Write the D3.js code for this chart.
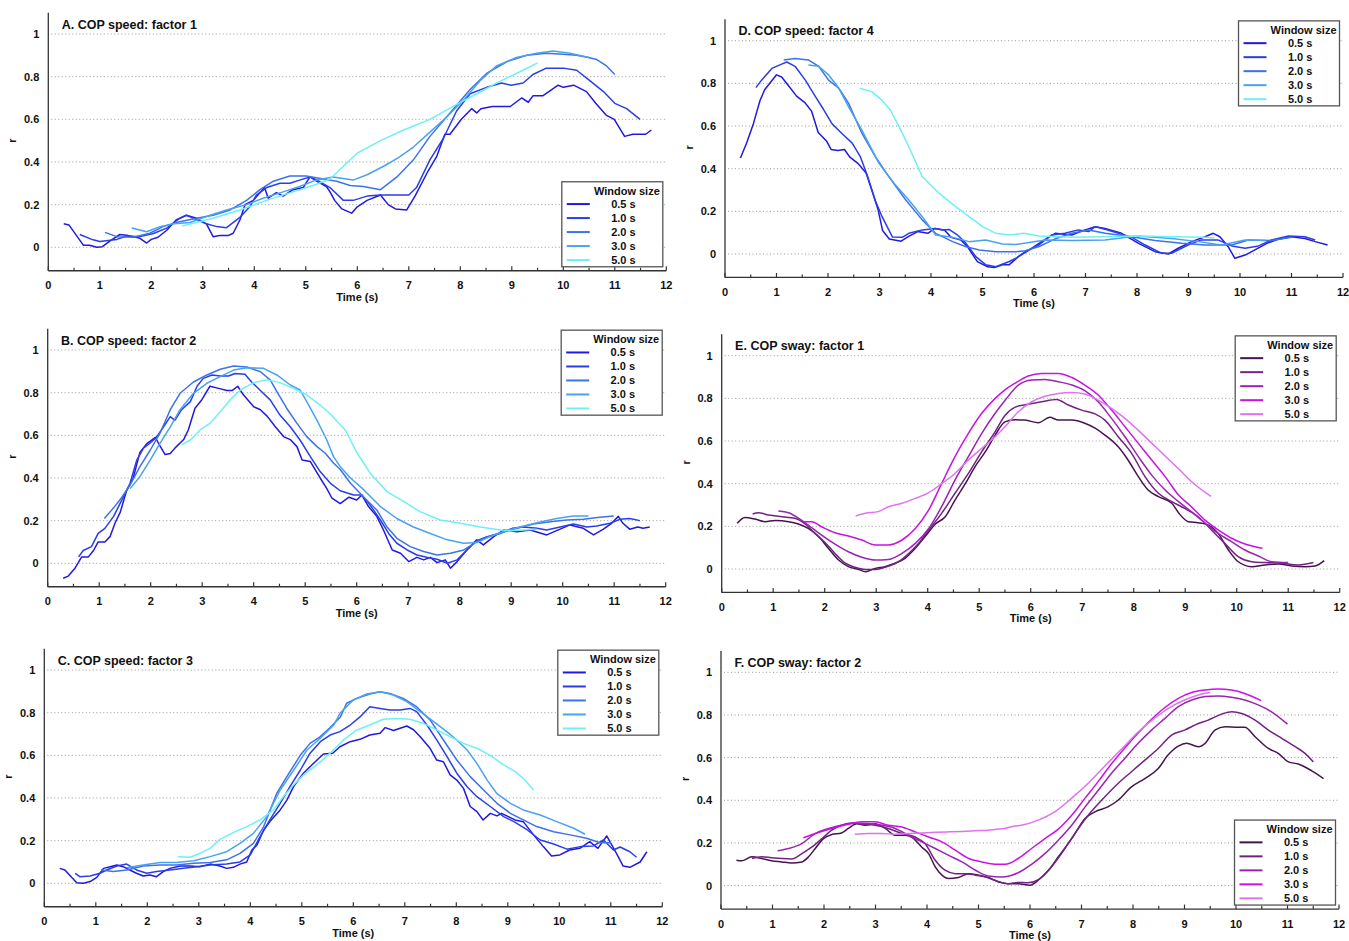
<!DOCTYPE html>
<meta charset="utf-8">
<style>
body { margin: 0; background: #fff; }
svg { display: block; }
text { font-family: "Liberation Sans", Arial, Helvetica, sans-serif; fill: #111; }
.tick-label { font-size: 11px; font-weight: bold; }
.title { font-size: 12.5px; font-weight: bold; }
.axis-title { font-size: 11px; font-weight: bold; }
.legend text { font-size: 11px; font-weight: bold; }
.grid { stroke: #9a9a9a; stroke-width: 1; stroke-dasharray: 1,2.5; }
.axis-line { stroke: #333; stroke-width: 1.3; fill: none; }
</style>
<body>
<svg width="1349" height="941"></svg>
<script src="https://cdn.jsdelivr.net/npm/d3@7"></script>
<script>

var windowSizes = ["0.5 s", "1.0 s", "2.0 s", "3.0 s", "5.0 s"];
var speedColors = ["#2219e0", "#2a3ee8", "#3c72ea", "#4aa2ee", "#6cf0f8"];
var swayColors  = ["#46144f", "#722382", "#9a24b2", "#c714e2", "#df72f0"];
var xTicks = [0,1,2,3,4,5,6,7,8,9,10,11,12];
var yTicks = [0, 0.2, 0.4, 0.6, 0.8, 1];

// ---- A. COP speed: factor 1  [time (s), r]
var speedF1_05 = [[0.3,0.11],[0.4,0.105],[0.68,0.01],[0.8,0.01],[0.94,0],[1.05,0.003],[1.2,0.03],[1.39,0.06],[1.52,0.057],[1.65,0.05],[1.78,0.042],[1.91,0.02],[2.0,0.037],[2.13,0.047],[2.3,0.08],[2.49,0.13],[2.68,0.15],[2.88,0.136],[3.07,0.11],[3.2,0.05],[3.33,0.055],[3.49,0.055],[3.59,0.066],[3.72,0.128],[3.82,0.2],[3.98,0.22],[4.07,0.245],[4.2,0.28],[4.27,0.23],[4.43,0.256],[4.56,0.24],[4.75,0.27],[4.95,0.28],[5.08,0.33],[5.21,0.31],[5.4,0.285],[5.47,0.26],[5.56,0.22],[5.7,0.18],[5.89,0.16],[6.0,0.19],[6.19,0.22],[6.45,0.245],[6.6,0.2],[6.74,0.18],[6.96,0.175],[7.12,0.24],[7.38,0.36],[7.54,0.425],[7.7,0.53],[7.8,0.53],[8.02,0.6],[8.22,0.65],[8.32,0.63],[8.4,0.65],[8.62,0.66],[8.8,0.66],[8.97,0.66],[9.19,0.7],[9.32,0.68],[9.41,0.71],[9.6,0.71],[9.9,0.76],[10.0,0.75],[10.2,0.76],[10.45,0.73],[10.63,0.675],[10.83,0.62],[10.99,0.6],[11.19,0.52],[11.35,0.53],[11.6,0.53],[11.71,0.55]];
var speedF1_10 = [[0.61,0.06],[0.87,0.035],[1.0,0.027],[1.33,0.037],[1.52,0.053],[1.78,0.05],[2.04,0.065],[2.3,0.09],[2.55,0.135],[2.68,0.15],[2.88,0.13],[3.07,0.11],[3.27,0.097],[3.46,0.092],[3.72,0.14],[3.91,0.19],[4.04,0.245],[4.24,0.28],[4.5,0.3],[4.69,0.3],[4.88,0.315],[5.08,0.33],[5.21,0.316],[5.47,0.28],[5.73,0.22],[5.92,0.22],[6.19,0.24],[6.45,0.245],[6.77,0.245],[7.0,0.245],[7.15,0.28],[7.41,0.41],[7.67,0.51],[7.93,0.64],[8.19,0.72],[8.51,0.75],[8.8,0.77],[8.99,0.76],[9.22,0.77],[9.41,0.81],[9.67,0.84],[10.0,0.84],[10.26,0.83],[10.52,0.78],[10.78,0.73],[11.0,0.675],[11.23,0.65],[11.49,0.6]];
var speedF1_20 = [[1.1,0.07],[1.33,0.05],[1.65,0.047],[1.97,0.066],[2.23,0.097],[2.55,0.12],[2.88,0.136],[3.2,0.15],[3.53,0.175],[3.85,0.22],[4.11,0.27],[4.37,0.31],[4.69,0.334],[5.01,0.334],[5.34,0.32],[5.6,0.31],[5.86,0.29],[6.12,0.285],[6.45,0.27],[6.77,0.33],[7.09,0.41],[7.41,0.52],[7.8,0.63],[8.19,0.74],[8.51,0.815],[8.9,0.87],[9.29,0.9],[9.67,0.91],[10.0,0.905],[10.26,0.9],[10.49,0.89],[10.65,0.88],[10.84,0.85],[11.0,0.81]];
var speedF1_30 = [[1.62,0.09],[1.91,0.073],[2.17,0.097],[2.43,0.11],[2.75,0.116],[3.07,0.144],[3.46,0.175],[3.85,0.2],[4.17,0.23],[4.56,0.26],[4.88,0.285],[5.21,0.316],[5.53,0.33],[5.92,0.315],[6.19,0.34],[6.51,0.38],[6.8,0.42],[7.09,0.47],[7.41,0.54],[7.73,0.61],[8.06,0.69],[8.38,0.78],[8.7,0.85],[9.09,0.89],[9.48,0.91],[9.8,0.92],[10.13,0.91],[10.5,0.89]];
var speedF1_50 = [[2.6,0.1],[3.2,0.136],[3.72,0.175],[4.24,0.22],[4.75,0.26],[5.14,0.29],[5.47,0.32],[5.73,0.38],[5.99,0.44],[6.45,0.5],[6.9,0.55],[7.41,0.6],[7.93,0.67],[8.32,0.72],[8.7,0.77],[9.09,0.815],[9.5,0.865]];

// ---- B. COP speed: factor 2
var speedF2_05 = [[0.3,-0.07],[0.4,-0.06],[0.53,-0.023],[0.66,0.03],[0.79,0.03],[0.89,0.06],[0.98,0.1],[1.11,0.1],[1.21,0.125],[1.31,0.19],[1.41,0.24],[1.53,0.34],[1.66,0.4],[1.79,0.52],[1.92,0.56],[2.09,0.59],[2.18,0.55],[2.28,0.51],[2.38,0.515],[2.47,0.54],[2.64,0.58],[2.73,0.625],[2.86,0.727],[2.99,0.766],[3.15,0.83],[3.32,0.82],[3.48,0.81],[3.58,0.81],[3.69,0.83],[3.8,0.79],[4.0,0.734],[4.13,0.72],[4.26,0.69],[4.42,0.64],[4.58,0.594],[4.71,0.58],[4.84,0.547],[4.94,0.484],[5.1,0.477],[5.29,0.4],[5.42,0.35],[5.52,0.305],[5.68,0.28],[5.85,0.31],[6.0,0.297],[6.1,0.32],[6.23,0.266],[6.39,0.22],[6.52,0.156],[6.69,0.0625],[6.85,0.047],[7.01,0.008],[7.17,0.028],[7.3,0.016],[7.43,0.028],[7.56,0.003],[7.72,0.016],[7.82,-0.023],[7.95,0.008],[8.14,0.0625],[8.33,0.11],[8.46,0.086],[8.66,0.125],[8.85,0.156],[9.11,0.148],[9.37,0.156],[9.69,0.133],[9.95,0.16],[10.14,0.18],[10.4,0.164],[10.6,0.133],[10.79,0.16],[10.95,0.1875],[11.08,0.22],[11.17,0.1875],[11.3,0.16],[11.46,0.17],[11.56,0.164],[11.69,0.17]];
var speedF2_10 = [[0.6,0.03],[0.69,0.06],[0.85,0.078],[0.98,0.14],[1.11,0.164],[1.28,0.22],[1.44,0.297],[1.6,0.375],[1.73,0.484],[1.86,0.54],[2.02,0.57],[2.12,0.594],[2.25,0.64],[2.38,0.6875],[2.47,0.67],[2.6,0.72],[2.77,0.758],[2.9,0.83],[3.02,0.867],[3.19,0.883],[3.35,0.878],[3.51,0.878],[3.64,0.89],[3.83,0.886],[3.96,0.85],[4.13,0.81],[4.32,0.766],[4.51,0.695],[4.71,0.64],[4.9,0.578],[5.1,0.5],[5.29,0.43],[5.49,0.375],[5.68,0.34],[5.94,0.32],[6.1,0.32],[6.26,0.273],[6.46,0.203],[6.62,0.14],[6.78,0.094],[6.98,0.0625],[7.17,0.039],[7.36,0.028],[7.56,0.019],[7.76,0.0],[7.95,0.016],[8.14,0.0625],[8.33,0.106],[8.53,0.125],[8.79,0.14],[9.02,0.164],[9.24,0.17],[9.5,0.164],[9.69,0.156],[9.95,0.17],[10.21,0.184],[10.47,0.17],[10.66,0.175],[10.92,0.1875],[11.11,0.206],[11.3,0.21],[11.5,0.2]];
var speedF2_20 = [[1.1,0.21],[1.28,0.26],[1.44,0.31],[1.6,0.367],[1.79,0.453],[1.99,0.53],[2.18,0.61],[2.38,0.72],[2.57,0.797],[2.83,0.85],[3.09,0.883],[3.35,0.91],[3.61,0.925],[3.87,0.92],[4.13,0.898],[4.32,0.86],[4.45,0.805],[4.64,0.727],[4.84,0.656],[5.03,0.594],[5.23,0.547],[5.39,0.516],[5.55,0.47],[5.68,0.44],[5.88,0.375],[6.14,0.31],[6.39,0.25],[6.59,0.17],[6.78,0.117],[7.04,0.078],[7.3,0.055],[7.56,0.039],[7.82,0.047],[8.08,0.0625],[8.33,0.1],[8.59,0.128],[8.85,0.148],[9.11,0.164],[9.43,0.184],[9.76,0.195],[10.08,0.203],[10.4,0.206],[10.72,0.216],[10.99,0.222]];
var speedF2_30 = [[1.6,0.35],[1.79,0.406],[1.99,0.484],[2.18,0.5625],[2.38,0.64],[2.57,0.72],[2.83,0.797],[3.09,0.844],[3.35,0.875],[3.61,0.906],[3.87,0.917],[4.19,0.914],[4.45,0.883],[4.71,0.836],[4.9,0.8125],[5.03,0.758],[5.23,0.67],[5.42,0.578],[5.55,0.5],[5.68,0.453],[5.88,0.4],[6.14,0.344],[6.46,0.266],[6.78,0.21],[7.1,0.17],[7.43,0.14],[7.76,0.11],[8.08,0.094],[8.33,0.097],[8.59,0.125],[8.85,0.148],[9.17,0.17],[9.5,0.19],[9.88,0.21],[10.21,0.222],[10.5,0.222]];
var speedF2_50 = [[2.6,0.555],[2.77,0.578],[2.96,0.625],[3.15,0.656],[3.35,0.71],[3.54,0.766],[3.74,0.8125],[4.0,0.847],[4.26,0.86],[4.51,0.847],[4.77,0.82],[5.03,0.79],[5.29,0.742],[5.49,0.7],[5.68,0.65],[5.78,0.625],[6.01,0.516],[6.27,0.42],[6.59,0.336],[6.91,0.29],[7.23,0.242],[7.62,0.203],[8.01,0.1875],[8.4,0.17],[8.79,0.156],[9.0,0.153],[9.5,0.16]];

// ---- C. COP speed: factor 3
var speedF3_05 = [[0.3,0.07],[0.4,0.0625],[0.53,0.028],[0.63,0.003],[0.76,0],[0.89,0.008],[1.02,0.028],[1.15,0.07],[1.28,0.078],[1.41,0.086],[1.53,0.078],[1.66,0.0625],[1.79,0.047],[1.92,0.034],[2.05,0.039],[2.18,0.031],[2.31,0.055],[2.44,0.07],[2.64,0.081],[2.83,0.081],[3.02,0.078],[3.22,0.09],[3.41,0.081],[3.54,0.07],[3.67,0.075],[3.8,0.09],[3.93,0.1],[4.03,0.156],[4.13,0.18],[4.26,0.25],[4.38,0.29],[4.58,0.344],[4.71,0.39],[4.84,0.453],[5.03,0.516],[5.23,0.5625],[5.42,0.606],[5.6,0.61],[5.74,0.64],[5.94,0.664],[6.13,0.675],[6.32,0.695],[6.52,0.703],[6.62,0.73],[6.78,0.716],[6.91,0.727],[7.04,0.7375],[7.17,0.72],[7.3,0.6875],[7.49,0.633],[7.62,0.578],[7.75,0.57],[7.88,0.508],[8.01,0.484],[8.14,0.445],[8.27,0.36],[8.4,0.336],[8.52,0.297],[8.66,0.328],[8.79,0.316],[8.88,0.328],[9.01,0.3125],[9.14,0.297],[9.3,0.289],[9.5,0.227],[9.69,0.172],[9.85,0.128],[10.01,0.133],[10.2,0.156],[10.4,0.164],[10.59,0.195],[10.75,0.164],[10.92,0.222],[11.11,0.14],[11.24,0.081],[11.37,0.075],[11.57,0.1],[11.7,0.148]];
var speedF3_10 = [[0.6,0.047],[0.69,0.031],[0.89,0.034],[1.08,0.047],[1.21,0.0625],[1.41,0.081],[1.6,0.09],[1.79,0.0625],[1.99,0.047],[2.18,0.055],[2.44,0.0625],[2.7,0.07],[2.96,0.078],[3.22,0.086],[3.54,0.09],[3.8,0.1],[4.0,0.133],[4.19,0.219],[4.38,0.297],[4.58,0.375],[4.77,0.453],[4.97,0.53],[5.16,0.61],[5.36,0.664],[5.55,0.695],[5.74,0.711],[5.94,0.742],[6.13,0.78],[6.32,0.828],[6.52,0.82],[6.71,0.8125],[6.91,0.8125],[7.1,0.82],[7.23,0.805],[7.43,0.742],[7.62,0.672],[7.82,0.594],[8.01,0.516],[8.21,0.453],[8.4,0.406],[8.66,0.36],[8.92,0.3125],[9.12,0.289],[9.38,0.25],[9.63,0.203],[9.89,0.184],[10.15,0.16],[10.41,0.172],[10.66,0.175],[10.86,0.203],[11.05,0.156],[11.18,0.17],[11.37,0.148],[11.5,0.122]];
var speedF3_20 = [[1.1,0.0625],[1.34,0.055],[1.6,0.0625],[1.92,0.081],[2.25,0.086],[2.57,0.086],[2.9,0.094],[3.22,0.097],[3.54,0.11],[3.8,0.14],[4.06,0.1875],[4.26,0.266],[4.51,0.42],[4.71,0.5],[4.97,0.6],[5.16,0.656],[5.36,0.6875],[5.55,0.73],[5.75,0.78],[5.87,0.844],[6.07,0.867],[6.32,0.8875],[6.52,0.898],[6.71,0.89],[6.97,0.867],[7.23,0.828],[7.49,0.766],[7.75,0.672],[8.01,0.578],[8.27,0.5],[8.53,0.4375],[8.79,0.375],[9.05,0.328],[9.3,0.297],[9.56,0.266],[9.89,0.242],[10.21,0.227],[10.53,0.211],[10.79,0.19],[11.0,0.19]];
var speedF3_30 = [[1.6,0.073],[1.92,0.086],[2.25,0.097],[2.57,0.097],[2.9,0.106],[3.22,0.125],[3.54,0.148],[3.8,0.1875],[4.06,0.234],[4.32,0.3125],[4.58,0.4375],[4.84,0.53],[5.1,0.625],[5.36,0.68],[5.62,0.742],[5.75,0.8],[6.0,0.86],[6.26,0.8875],[6.52,0.898],[6.78,0.883],[7.04,0.852],[7.3,0.805],[7.56,0.758],[7.82,0.71],[8.01,0.672],[8.21,0.625],[8.4,0.5625],[8.6,0.484],[8.79,0.42],[9.05,0.375],[9.3,0.344],[9.63,0.32],[9.95,0.289],[10.28,0.258],[10.5,0.23]];
var speedF3_50 = [[2.6,0.125],[2.83,0.122],[3.02,0.14],[3.22,0.164],[3.41,0.206],[3.67,0.2375],[3.93,0.266],[4.19,0.297],[4.45,0.344],[4.64,0.406],[4.84,0.461],[5.03,0.508],[5.29,0.555],[5.55,0.61],[5.81,0.672],[6.07,0.719],[6.32,0.742],[6.58,0.769],[6.84,0.773],[7.1,0.769],[7.36,0.75],[7.62,0.719],[7.88,0.6875],[8.14,0.656],[8.4,0.633],[8.66,0.6],[8.92,0.555],[9.17,0.52],[9.33,0.484],[9.5,0.4375]];

// ---- D. COP speed: factor 4
var speedF4_05 = [[0.3,0.45],[0.42,0.52],[0.55,0.61],[0.68,0.72],[0.77,0.77],[0.9,0.81],[1.0,0.84],[1.1,0.83],[1.23,0.79],[1.39,0.74],[1.55,0.71],[1.68,0.67],[1.81,0.57],[1.97,0.53],[2.06,0.49],[2.19,0.485],[2.32,0.49],[2.42,0.455],[2.58,0.425],[2.74,0.38],[2.87,0.285],[2.97,0.21],[3.06,0.11],[3.19,0.07],[3.42,0.06],[3.55,0.08],[3.74,0.105],[3.94,0.097],[4.07,0.12],[4.26,0.113],[4.39,0.078],[4.58,0.066],[4.71,0.034],[4.9,-0.036],[5.1,-0.06],[5.23,-0.063],[5.39,-0.05],[5.52,-0.05],[5.7,-0.012],[5.96,0.027],[6.15,0.058],[6.41,0.097],[6.73,0.089],[6.99,0.113],[7.19,0.128],[7.38,0.12],[7.7,0.097],[8.03,0.05],[8.35,0.011],[8.61,0.0],[8.8,0.027],[9.06,0.058],[9.32,0.081],[9.48,0.097],[9.61,0.081],[9.77,0.034],[9.9,-0.02],[10.1,-0.005],[10.29,0.019],[10.55,0.053],[10.74,0.069],[11.0,0.081],[11.26,0.073],[11.46,0.058],[11.7,0.042]];
var speedF4_10 = [[0.6,0.78],[0.71,0.815],[0.91,0.87],[1.1,0.89],[1.2,0.9],[1.36,0.88],[1.56,0.815],[1.75,0.74],[1.92,0.675],[2.08,0.61],[2.27,0.565],[2.47,0.52],[2.63,0.455],[2.76,0.37],[2.92,0.25],[3.05,0.175],[3.25,0.08],[3.44,0.078],[3.57,0.097],[3.83,0.113],[4.09,0.12],[4.22,0.113],[4.35,0.115],[4.51,0.09],[4.68,0.05],[4.87,-0.012],[5.06,-0.05],[5.26,-0.06],[5.52,-0.035],[5.65,-0.02],[5.83,0.011],[6.09,0.042],[6.34,0.089],[6.6,0.097],[6.86,0.113],[7.06,0.105],[7.19,0.128],[7.38,0.116],[7.64,0.097],[7.9,0.078],[8.16,0.042],[8.48,0.003],[8.67,0.003],[8.99,0.042],[9.25,0.066],[9.57,0.066],[9.84,0.038],[10.1,0.027],[10.36,0.038],[10.61,0.066],[10.94,0.084],[11.26,0.081],[11.46,0.066]];
var speedF4_20 = [[1.14,0.91],[1.36,0.917],[1.62,0.91],[1.82,0.88],[2.01,0.815],[2.21,0.777],[2.4,0.706],[2.66,0.565],[2.92,0.456],[3.18,0.363],[3.51,0.253],[3.83,0.16],[4.09,0.097],[4.42,0.058],[4.68,0.034],[4.94,0.019],[5.26,0.011],[5.65,0.011],[5.83,0.015],[6.09,0.034],[6.4,0.07],[6.73,0.097],[7.06,0.113],[7.38,0.097],[7.9,0.081],[8.35,0.063],[8.87,0.05],[9.32,0.042],[9.84,0.042],[10.16,0.066],[10.61,0.063],[11.0,0.078]];
var speedF4_30 = [[1.62,0.886],[1.82,0.88],[2.01,0.84],[2.21,0.777],[2.4,0.69],[2.66,0.58],[2.99,0.425],[3.31,0.323],[3.57,0.253],[3.83,0.175],[4.09,0.089],[4.42,0.078],[4.74,0.058],[5.06,0.066],[5.39,0.047],[5.65,0.045],[6.22,0.066],[6.73,0.063],[7.38,0.066],[8.0,0.084],[8.67,0.073],[9.19,0.058],[9.64,0.042],[10.1,0.066],[10.5,0.063]];
var speedF4_50 = [[2.62,0.777],[2.86,0.76],[3.05,0.72],[3.21,0.675],[3.38,0.597],[3.57,0.503],[3.83,0.363],[4.16,0.284],[4.48,0.222],[4.74,0.175],[5.0,0.128],[5.26,0.097],[5.52,0.089],[5.8,0.097],[6.09,0.084],[6.73,0.078],[7.38,0.081],[8.0,0.084],[8.67,0.081],[9.32,0.078],[9.5,0.075]];

// ---- E. COP sway: factor 1
var swayF1_05 = [[0.3,0.214],[0.45,0.242],[0.65,0.234],[0.84,0.222],[1.04,0.227],[1.3,0.222],[1.49,0.211],[1.68,0.19],[1.88,0.152],[2.07,0.097],[2.27,0.042],[2.46,0.011],[2.66,-0.002],[2.79,-0.0125],[2.98,0.003],[3.17,0.011],[3.37,0.027],[3.56,0.05],[3.76,0.097],[3.95,0.152],[4.15,0.211],[4.34,0.245],[4.53,0.323],[4.73,0.4],[4.92,0.48],[5.12,0.55],[5.31,0.628],[5.5,0.69],[5.69,0.7],[5.89,0.698],[6.15,0.686],[6.37,0.711],[6.54,0.698],[6.8,0.698],[7.05,0.683],[7.25,0.66],[7.44,0.628],[7.7,0.573],[7.89,0.511],[8.09,0.433],[8.28,0.37],[8.48,0.339],[8.74,0.308],[8.87,0.264],[9.06,0.222],[9.25,0.217],[9.45,0.206],[9.64,0.167],[9.84,0.089],[10.03,0.034],[10.29,0.011],[10.55,0.019],[10.81,0.023],[11.07,0.014],[11.33,0.011],[11.52,0.014],[11.7,0.039]];
var swayF1_10 = [[0.6,0.258],[0.71,0.264],[0.91,0.253],[1.17,0.245],[1.42,0.238],[1.62,0.211],[1.81,0.167],[2.01,0.123],[2.2,0.073],[2.4,0.027],[2.59,0.008],[2.79,-0.002],[2.98,-0.002],[3.24,0.014],[3.43,0.034],[3.63,0.073],[3.82,0.12],[4.02,0.183],[4.27,0.261],[4.53,0.355],[4.79,0.448],[5.05,0.55],[5.31,0.644],[5.5,0.72],[5.69,0.758],[5.95,0.772],[6.21,0.784],[6.5,0.795],[6.73,0.769],[6.99,0.745],[7.25,0.727],[7.44,0.698],[7.7,0.62],[7.96,0.542],[8.22,0.433],[8.48,0.355],[8.74,0.316],[8.99,0.284],[9.25,0.245],[9.51,0.183],[9.77,0.12],[10.03,0.058],[10.29,0.034],[10.55,0.03],[10.87,0.027],[11.2,0.019],[11.49,0.03]];
var swayF1_20 = [[1.1,0.272],[1.3,0.264],[1.49,0.238],[1.68,0.206],[1.94,0.159],[2.2,0.117],[2.46,0.081],[2.72,0.055],[2.98,0.042],[3.24,0.045],[3.5,0.073],[3.76,0.12],[4.02,0.19],[4.27,0.292],[4.53,0.417],[4.79,0.527],[5.05,0.636],[5.31,0.73],[5.5,0.79],[5.76,0.8625],[6.02,0.886],[6.28,0.889],[6.54,0.878],[6.8,0.8625],[7.05,0.836],[7.31,0.784],[7.57,0.706],[7.83,0.62],[8.09,0.527],[8.35,0.44],[8.61,0.37],[8.87,0.316],[9.12,0.269],[9.38,0.217],[9.64,0.167],[9.9,0.128],[10.16,0.089],[10.42,0.061],[10.68,0.034],[11.0,0.03]];
var swayF1_30 = [[1.6,0.222],[1.75,0.222],[1.94,0.198],[2.2,0.17],[2.46,0.155],[2.72,0.136],[2.98,0.1125],[3.24,0.1125],[3.5,0.136],[3.76,0.19],[4.02,0.277],[4.27,0.4],[4.53,0.527],[4.79,0.636],[5.05,0.73],[5.31,0.8],[5.5,0.84],[5.69,0.87],[5.95,0.905],[6.21,0.917],[6.54,0.917],[6.8,0.898],[7.05,0.8625],[7.31,0.816],[7.57,0.745],[7.83,0.667],[8.09,0.589],[8.35,0.511],[8.61,0.433],[8.87,0.347],[9.12,0.292],[9.38,0.23],[9.64,0.183],[9.9,0.144],[10.16,0.117],[10.5,0.097]];
var swayF1_50 = [[2.6,0.248],[2.79,0.261],[3.04,0.269],[3.24,0.292],[3.5,0.308],[3.76,0.331],[4.02,0.358],[4.27,0.4],[4.53,0.448],[4.79,0.511],[5.05,0.566],[5.31,0.62],[5.5,0.667],[5.76,0.7375],[6.02,0.784],[6.28,0.81],[6.54,0.823],[6.8,0.827],[7.05,0.82],[7.31,0.792],[7.57,0.753],[7.83,0.706],[8.09,0.65],[8.35,0.59],[8.61,0.53],[8.87,0.47],[9.12,0.41],[9.5,0.34]];

// ---- F. COP sway: factor 2
var swayF2_05 = [[0.3,0.119],[0.4,0.116],[0.6,0.135],[0.79,0.127],[0.98,0.116],[1.18,0.111],[1.37,0.106],[1.57,0.111],[1.7,0.135],[1.83,0.174],[1.99,0.22],[2.15,0.24],[2.34,0.247],[2.47,0.268],[2.64,0.29],[2.8,0.283],[2.99,0.29],[3.19,0.268],[3.38,0.236],[3.58,0.236],[3.7,0.228],[3.9,0.18],[4.03,0.15],[4.16,0.088],[4.29,0.049],[4.42,0.033],[4.61,0.038],[4.81,0.056],[5.0,0.049],[5.19,0.038],[5.39,0.017],[5.58,0.009],[5.77,0.009],[6.0,0.002],[6.16,0.025],[6.36,0.072],[6.55,0.135],[6.81,0.22],[7.07,0.315],[7.26,0.346],[7.52,0.37],[7.71,0.4],[7.97,0.463],[8.23,0.502],[8.49,0.549],[8.68,0.612],[8.88,0.654],[9.04,0.667],[9.27,0.651],[9.4,0.667],[9.59,0.729],[9.79,0.745],[10.04,0.742],[10.17,0.742],[10.37,0.698],[10.63,0.643],[10.82,0.62],[11.02,0.58],[11.21,0.57],[11.47,0.538],[11.7,0.502]];
var swayF2_10 = [[0.6,0.127],[0.79,0.135],[0.98,0.131],[1.18,0.127],[1.37,0.125],[1.57,0.15],[1.76,0.18],[1.96,0.22],[2.15,0.26],[2.34,0.283],[2.54,0.294],[2.73,0.288],[2.99,0.283],[3.25,0.268],[3.51,0.244],[3.77,0.228],[3.96,0.197],[4.16,0.119],[4.35,0.072],[4.55,0.056],[4.74,0.056],[4.94,0.049],[5.13,0.041],[5.32,0.025],[5.58,0.009],[5.77,0.015],[5.96,0.013],[6.16,0.028],[6.36,0.072],[6.61,0.15],[6.87,0.244],[7.13,0.33],[7.39,0.4],[7.71,0.479],[7.97,0.534],[8.23,0.588],[8.49,0.643],[8.75,0.706],[9.0,0.729],[9.27,0.76],[9.46,0.776],[9.72,0.804],[9.92,0.815],[10.11,0.807],[10.37,0.776],[10.63,0.729],[10.89,0.69],[11.15,0.651],[11.34,0.62],[11.5,0.58]];
var swayF2_20 = [[1.1,0.163],[1.31,0.174],[1.57,0.197],[1.83,0.244],[2.09,0.268],[2.34,0.283],[2.6,0.294],[2.86,0.291],[3.13,0.283],[3.38,0.268],[3.64,0.236],[3.9,0.205],[4.16,0.174],[4.42,0.142],[4.68,0.111],[4.94,0.072],[5.19,0.045],[5.45,0.04],[5.77,0.06],[6.03,0.1],[6.29,0.15],[6.55,0.213],[6.81,0.283],[7.07,0.369],[7.33,0.448],[7.58,0.526],[7.84,0.596],[8.1,0.667],[8.36,0.729],[8.62,0.784],[8.88,0.839],[9.14,0.87],[9.4,0.886],[9.65,0.889],[9.91,0.883],[10.17,0.87],[10.43,0.847],[10.69,0.815],[11.0,0.757]];
var swayF2_30 = [[1.6,0.224],[1.83,0.244],[2.15,0.268],[2.47,0.288],[2.73,0.299],[2.99,0.299],[3.25,0.283],[3.51,0.275],[3.77,0.252],[4.03,0.228],[4.29,0.205],[4.55,0.166],[4.81,0.127],[5.06,0.111],[5.32,0.1],[5.52,0.1],[5.77,0.127],[6.03,0.174],[6.29,0.22],[6.55,0.265],[6.81,0.33],[7.07,0.41],[7.33,0.49],[7.58,0.57],[7.84,0.645],[8.1,0.715],[8.36,0.78],[8.62,0.835],[8.88,0.878],[9.14,0.905],[9.4,0.917],[9.65,0.922],[9.91,0.917],[10.17,0.901],[10.49,0.867]];
var swayF2_50 = [[2.6,0.241],[2.86,0.244],[3.12,0.244],[3.38,0.241],[3.64,0.244],[3.9,0.247],[4.16,0.25],[4.42,0.252],[4.68,0.254],[4.94,0.257],[5.19,0.26],[5.45,0.266],[5.71,0.279],[5.83,0.283],[6.16,0.307],[6.48,0.346],[6.81,0.41],[7.13,0.48],[7.45,0.56],[7.78,0.64],[8.1,0.72],[8.42,0.785],[8.68,0.83],[9.0,0.87],[9.27,0.894],[9.5,0.905]];

// panel layout: left = pixel of t=0, y1 = pixel of r=1
var panels = [
  {title: "A. COP speed: factor 1", series: [speedF1_05, speedF1_10, speedF1_20, speedF1_30, speedF1_50], colors: speedColors, left: 48.3, y1: 34, legend: "bottom", smooth: false},
  {title: "B. COP speed: factor 2", series: [speedF2_05, speedF2_10, speedF2_20, speedF2_30, speedF2_50], colors: speedColors, left: 47.7, y1: 350, legend: "top", smooth: false},
  {title: "C. COP speed: factor 3", series: [speedF3_05, speedF3_10, speedF3_20, speedF3_30, speedF3_50], colors: speedColors, left: 44.3, y1: 670, legend: "top", smooth: false},
  {title: "D. COP speed: factor 4", series: [speedF4_05, speedF4_10, speedF4_20, speedF4_30, speedF4_50], colors: speedColors, left: 725, y1: 40.7, legend: "top", smooth: false},
  {title: "E. COP sway: factor 1", series: [swayF1_05, swayF1_10, swayF1_20, swayF1_30, swayF1_50], colors: swayColors, left: 721.7, y1: 355.7, legend: "top", smooth: true},
  {title: "F. COP sway: factor 2", series: [swayF2_05, swayF2_10, swayF2_20, swayF2_30, swayF2_50], colors: swayColors, left: 721, y1: 672.3, legend: "bottom", smooth: true}
];

var svg = d3.select("svg");
var pxPerSec = 51.5, pxPerUnit = 213.3;

panels.forEach(function(p) {
  var x = d3.scaleLinear().domain([0, 12]).range([p.left, p.left + 12 * pxPerSec]);
  var y = d3.scaleLinear().domain([0, 1]).range([p.y1 + pxPerUnit, p.y1]);
  var yMin = -0.11, yMax = 1.1;
  var g = svg.append("g");

  // grid
  g.selectAll(".grid").data(yTicks).enter().append("line")
      .attr("class", "grid")
      .attr("x1", x(0) + 3).attr("x2", x(12))
      .attr("y1", function(d) { return y(d); }).attr("y2", function(d) { return y(d); });

  // lines
  var line = d3.line()
      .x(function(d) { return x(d[0]); })
      .y(function(d) { return y(d[1]); })
      .curve(p.smooth ? d3.curveMonotoneX : d3.curveLinear);

  g.selectAll(".series").data(p.series).enter().append("path")
      .attr("fill", "none")
      .attr("stroke", function(d, i) { return p.colors[i]; })
      .attr("stroke-width", 1.5)
      .attr("stroke-linejoin", "round")
      .attr("d", line);

  // axes
  var yb = y(yMin);
  g.append("line").attr("class", "axis-line")
      .attr("x1", x(0)).attr("x2", x(0)).attr("y1", y(yMax)).attr("y2", yb);
  g.append("line").attr("class", "axis-line")
      .attr("x1", x(0)).attr("x2", x(12)).attr("y1", yb).attr("y2", yb);

  var minor = d3.range(0, 12.01, 0.5);
  g.selectAll(".xt").data(minor).enter().append("line")
      .attr("stroke", "#333").attr("stroke-width", 1.2)
      .attr("x1", function(d) { return x(d); }).attr("x2", function(d) { return x(d); })
      .attr("y1", yb).attr("y2", function(d) { return yb - (d % 1 === 0 ? 4.5 : 3); });

  g.selectAll(".xl").data(xTicks).enter().append("text")
      .attr("class", "tick-label")
      .attr("text-anchor", "middle")
      .attr("x", function(d) { return x(d); })
      .attr("y", yb + 18.5)
      .text(function(d) { return d; });

  g.selectAll(".yl").data(yTicks).enter().append("text")
      .attr("class", "tick-label")
      .attr("text-anchor", "end")
      .attr("x", x(0) - 9)
      .attr("y", function(d) { return y(d) + 4; })
      .text(function(d) { return d; });

  g.append("text").attr("class", "axis-title")
      .attr("text-anchor", "middle")
      .attr("x", x(6)).attr("y", yb + 30)
      .text("Time (s)");

  g.append("text").attr("class", "axis-title")
      .attr("text-anchor", "middle")
      .attr("transform", "translate(" + (x(0) - 32) + "," + y(0.5) + ") rotate(-90)")
      .text("r");

  g.append("text").attr("class", "title")
      .attr("x", x(0) + 13.4).attr("y", y(1) - 5.5)
      .text(p.title);

  // legend
  var lw = 101, lh = 85;
  var lx = x(0) + 614.5 - lw;
  var ly = p.legend === "top" ? y(yMax) + 1.5 : yb - 4 - lh;
  var lg = g.append("g").attr("class", "legend").attr("transform", "translate(" + lx + "," + ly + ")");
  lg.append("rect").attr("width", lw).attr("height", lh)
      .attr("fill", "#fff").attr("stroke", "#555").attr("stroke-width", 1.3);
  lg.append("text").attr("text-anchor", "end").attr("x", lw - 3).attr("y", 13.3).text("Window size");
  var rows = lg.selectAll(".row").data(windowSizes).enter().append("g")
      .attr("transform", function(d, i) { return "translate(0," + (22.3 + 14 * i) + ")"; });
  rows.append("line").attr("x1", 5).attr("x2", 28)
      .attr("stroke", function(d, i) { return p.colors[i]; }).attr("stroke-width", 2);
  rows.append("text").attr("x", 49.4).attr("y", 4).text(function(d) { return d; });
});

</script>
